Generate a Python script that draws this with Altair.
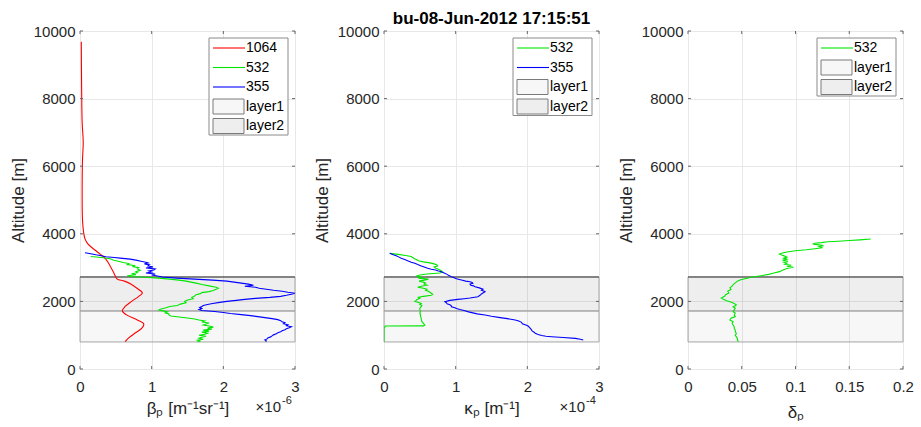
import altair as alt
import pandas as pd

FONT = "Liberation Sans"
W, H = 215, 338
TXT = "#262626"

# ---------------- data ----------------
# Panel 1: particle backscatter coefficient (x 1e-6 m^-1 sr^-1)
alt_b1064 = [9680, 8500, 7300, 6700, 6200, 5200, 4400, 4050, 3850, 3700, 3550, 3400, 3250, 3050,
             2850, 2720, 2660, 2600, 2500, 2380, 2250, 2150, 2000, 1850, 1720, 1600, 1450, 1330,
             1200, 1050, 920, 808]
val_b1064 = [0.018, 0.022, 0.03, 0.045, 0.035, 0.03, 0.035, 0.05, 0.07, 0.11, 0.19, 0.28, 0.36, 0.42,
             0.47, 0.50, 0.52, 0.62, 0.72, 0.80, 0.87, 0.82, 0.72, 0.63, 0.59, 0.65, 0.80, 0.89,
             0.86, 0.76, 0.68, 0.63]

alt_b532 = [3330, 3300, 3260, 3220, 3180, 3150, 3120, 3090, 3060, 3030, 3000, 2960, 2920, 2880, 2850,
            2820, 2790, 2760, 2735, 2715, 2690, 2660, 2630, 2600, 2570, 2540, 2500, 2460, 2420, 2390,
            2360, 2320, 2290, 2260, 2230, 2200, 2160, 2120, 2080, 2040, 2000, 1960, 1920, 1880, 1850,
            1810, 1770, 1745, 1720, 1690, 1660, 1630, 1600, 1570, 1540, 1510, 1480, 1450, 1420, 1390,
            1360, 1330, 1300, 1270, 1240, 1210, 1180, 1150, 1120, 1090, 1060, 1030, 1000, 970, 940,
            910, 880, 850, 820, 808]
val_b532 = [0.15, 0.30, 0.42, 0.47, 0.55, 0.60, 0.68, 0.66, 0.76, 0.74, 0.82, 0.80, 0.84, 0.78, 0.80,
            0.72, 0.78, 0.66, 0.70, 0.90, 1.10, 1.25, 1.38, 1.48, 1.55, 1.62, 1.70, 1.80, 1.90, 1.93,
            1.90, 1.86, 1.80, 1.70, 1.68, 1.62, 1.60, 1.56, 1.58, 1.50, 1.46, 1.48, 1.40, 1.36, 1.25,
            1.20, 1.12, 1.10, 1.16, 1.22, 1.19, 1.24, 1.24, 1.27, 1.38, 1.50, 1.60, 1.66, 1.74, 1.70,
            1.80, 1.76, 1.72, 1.80, 1.86, 1.78, 1.84, 1.72, 1.80, 1.70, 1.78, 1.74, 1.66, 1.76, 1.70,
            1.66, 1.72, 1.64, 1.68, 1.64]

alt_b355 = [3441, 3410, 3380, 3350, 3320, 3300, 3280, 3250, 3220, 3190, 3160, 3140, 3110, 3080, 3050,
            3020, 2990, 2960, 2930, 2900, 2870, 2840, 2810, 2780, 2750, 2720, 2690, 2660, 2630, 2600,
            2570, 2540, 2510, 2480, 2450, 2420, 2390, 2360, 2330, 2300, 2270, 2240, 2210, 2180, 2150,
            2120, 2090, 2060, 2030, 2000, 1970, 1940, 1910, 1880, 1850, 1820, 1790, 1760, 1730, 1700,
            1670, 1640, 1610, 1580, 1550, 1520, 1490, 1460, 1430, 1400, 1370, 1340, 1310, 1280, 1250,
            1220, 1190, 1160, 1130, 1100, 1070, 1040, 1010, 980, 950, 920, 890, 860, 830, 808]
val_b355 = [0.07, 0.15, 0.22, 0.30, 0.36, 0.48, 0.56, 0.70, 0.78, 0.85, 0.92, 0.95, 0.90, 0.97, 0.95,
            1.02, 0.92, 1.05, 1.03, 0.96, 1.00, 0.92, 1.05, 1.00, 1.08, 1.15, 1.35, 1.60, 1.85, 2.05,
            2.15, 2.25, 2.35, 2.42, 2.30, 2.45, 2.50, 2.60, 2.70, 2.82, 2.90, 3.00, 2.95, 2.88, 2.80,
            2.65, 2.45, 2.30, 2.18, 2.05, 1.95, 1.85, 1.78, 1.72, 1.70, 1.67, 1.70, 1.66, 1.70, 1.88,
            2.00, 2.10, 2.25, 2.38, 2.48, 2.58, 2.68, 2.76, 2.80, 2.82, 2.86, 2.84, 2.90, 2.88, 2.95,
            2.92, 2.88, 2.86, 2.82, 2.80, 2.76, 2.74, 2.70, 2.68, 2.66, 2.62, 2.61, 2.58, 2.60, 2.59]

# Panel 2: particle extinction coefficient (x 1e-4 m^-1)
alt_e532 = [3422, 3390, 3360, 3330, 3300, 3270, 3240, 3200, 3170, 3140, 3110, 3080, 3050, 3020, 2990,
            2950, 2910, 2870, 2840, 2810, 2780, 2750, 2720, 2690, 2660, 2630, 2600, 2570, 2540, 2510,
            2480, 2450, 2420, 2390, 2360, 2330, 2300, 2270, 2240, 2210, 2180, 2150, 2120, 2090, 2060,
            2030, 2000, 1970, 1940, 1910, 1880, 1850, 1800, 1750, 1700, 1650, 1600, 1550, 1500, 1450,
            1400, 1350, 1300, 1275, 1272, 1200, 1000, 808]
val_e532 = [0.08, 0.20, 0.30, 0.38, 0.40, 0.42, 0.45, 0.48, 0.55, 0.64, 0.70, 0.74, 0.75, 0.70, 0.72,
            0.76, 0.80, 0.82, 0.78, 0.60, 0.50, 0.45, 0.52, 0.48, 0.62, 0.56, 0.49, 0.55, 0.58, 0.56,
            0.60, 0.52, 0.47, 0.55, 0.60, 0.58, 0.62, 0.64, 0.66, 0.68, 0.66, 0.55, 0.48, 0.50, 0.46,
            0.45, 0.43, 0.48, 0.52, 0.50, 0.53, 0.52, 0.50, 0.50, 0.51, 0.50, 0.51, 0.51, 0.52, 0.52,
            0.53, 0.55, 0.57, 0.55, 0.02, 0.0, 0.0, 0.0]

alt_e355 = [3422, 3390, 3350, 3310, 3274, 3240, 3200, 3160, 3126, 3090, 3050, 3010, 2978, 2950, 2930,
            2900, 2880, 2840, 2800, 2770, 2732, 2700, 2680, 2650, 2633, 2600, 2580, 2560, 2535, 2510,
            2480, 2460, 2435, 2400, 2360, 2330, 2300, 2288, 2250, 2220, 2180, 2140, 2100, 2080, 2061,
            2030, 1991, 1960, 1930, 1900, 1870, 1843, 1815, 1790, 1760, 1725, 1690, 1660, 1630, 1598,
            1560, 1520, 1490, 1450, 1420, 1380, 1340, 1300, 1272, 1230, 1180, 1120, 1080, 1056, 1020,
            990, 970, 956, 930, 907, 880, 858]
val_e355 = [0.08, 0.12, 0.17, 0.21, 0.24, 0.29, 0.33, 0.38, 0.43, 0.47, 0.52, 0.57, 0.61, 0.66, 0.72,
            0.76, 0.80, 0.84, 0.88, 0.90, 0.94, 0.98, 1.00, 1.05, 1.08, 1.14, 1.20, 1.23, 1.24, 1.20,
            1.21, 1.25, 1.27, 1.33, 1.38, 1.36, 1.40, 1.41, 1.38, 1.36, 1.34, 1.31, 1.20, 1.12, 1.03,
            0.92, 0.85, 0.87, 0.88, 0.92, 0.94, 0.94, 0.99, 1.01, 1.06, 1.13, 1.18, 1.24, 1.30, 1.41,
            1.50, 1.62, 1.72, 1.83, 1.88, 1.92, 1.93, 1.98, 2.01, 2.03, 2.05, 2.07, 2.10, 2.11, 2.15,
            2.20, 2.26, 2.34, 2.50, 2.67, 2.74, 2.78]

# Panel 3: particle depolarisation ratio
alt_d532 = [3846, 3820, 3800, 3780, 3767, 3740, 3720, 3700, 3680, 3650, 3620, 3590, 3560, 3530, 3500,
            3460, 3430, 3400, 3373, 3340, 3310, 3280, 3250, 3220, 3190, 3160, 3130, 3100, 3070, 3040,
            3010, 2980, 2950, 2920, 2880, 2840, 2800, 2760, 2720, 2680, 2640, 2600, 2550, 2500, 2450,
            2400, 2350, 2300, 2250, 2200, 2150, 2100, 2060, 2020, 1990, 1950, 1900, 1870, 1840, 1800,
            1750, 1700, 1650, 1600, 1550, 1500, 1450, 1400, 1350, 1300, 1250, 1200, 1150, 1100, 1050,
            1000, 950, 900, 850, 808]
val_d532 = [0.170, 0.160, 0.150, 0.140, 0.130, 0.124, 0.118, 0.116, 0.120, 0.126, 0.122, 0.125, 0.118,
            0.110, 0.100, 0.092, 0.088, 0.085, 0.087, 0.090, 0.092, 0.089, 0.092, 0.088, 0.093, 0.089,
            0.092, 0.090, 0.096, 0.092, 0.098, 0.093, 0.090, 0.088, 0.085, 0.080, 0.075, 0.068, 0.060,
            0.054, 0.049, 0.046, 0.044, 0.042, 0.041, 0.039, 0.040, 0.037, 0.038, 0.035, 0.034, 0.031,
            0.033, 0.036, 0.039, 0.042, 0.045, 0.044, 0.042, 0.044, 0.043, 0.042, 0.044, 0.043, 0.044,
            0.040, 0.039, 0.042, 0.041, 0.042, 0.043, 0.043, 0.044, 0.044, 0.045, 0.044, 0.045, 0.046,
            0.046, 0.047]

# Aerosol layers (altitude bounds, m)
layer_names = ["layer1", "layer2"]
layer_bottom = [800, 1716]
layer_top = [1716, 2722]

# Axis ticks
alt_ticks = [0, 2000, 4000, 6000, 8000, 10000]
x1_ticks = [0, 1, 2, 3]
x3_ticks = [0, 0.05, 0.1, 0.15, 0.2]

series_colors = {"1064": "#ff0000", "532": "#00e600", "355": "#0000ff"}
layer_fill_opacity = [0.03, 0.065]


def series_df(alts, vals):
    return pd.DataFrame({"alt": alts, "val": vals, "i": list(range(len(alts)))})


def panel(series, xdomain, xticks, xtitle, xtitle_pad, mult, legend_series, title=None):
    xs = alt.Scale(domain=xdomain, nice=False, zero=False)
    ys = alt.Scale(domain=[0, 10000], nice=False)
    yaxis = alt.Axis(values=alt_ticks, format="d", title="Altitude [m]", grid=True,
                     gridColor="#e8e8e8", domain=False, ticks=False, tickSize=0,
                     labelFont=FONT, labelFontSize=15, labelColor=TXT, labelPadding=5,
                     titleFont=FONT, titleFontSize=17, titleFontWeight="normal",
                     titleColor=TXT, titlePadding=6)
    xaxis = alt.Axis(values=xticks, format="~g", title=xtitle, grid=True,
                     gridColor="#e8e8e8", domain=False, ticks=False, tickSize=0,
                     labelFont=FONT, labelFontSize=15, labelColor=TXT, labelPadding=10,
                     labelFlush=False,
                     titleFont=FONT, titleFontSize=17, titleFontWeight="normal",
                     titleColor=TXT, titlePadding=xtitle_pad)

    def X(field):
        return alt.X(field, scale=xs, axis=xaxis, title=xtitle)

    def Y(field):
        return alt.Y(field, scale=ys, axis=yaxis, title="Altitude [m]")

    layers_df = pd.DataFrame({"name": layer_names, "y1": layer_bottom, "y2": layer_top})
    rects = alt.Chart(layers_df).mark_rect(fill="#000000", stroke="#a6a6a6", strokeWidth=1).encode(
        x=alt.value(0), x2=alt.value(W),
        y=Y("y1:Q"), y2="y2:Q",
        fillOpacity=alt.FillOpacity("name:N", scale=alt.Scale(domain=layer_names,
                                                              range=layer_fill_opacity),
                                    legend=None),
    )
    top_df = pd.DataFrame({"y2": [layer_top[-1]]})
    top_edge = alt.Chart(top_df).mark_rule(color="#3a3a3a", strokeWidth=1).encode(
        y=Y("y2:Q"), x=alt.value(0), x2=alt.value(W),
    )

    parts = [rects, top_edge]
    for name, alts, vals, interp in series:
        parts.append(
            alt.Chart(series_df(alts, vals)).mark_line(
                color=series_colors[name], strokeWidth=1.1, interpolate=interp, clip=True
            ).encode(
                x=X("val:Q"),
                y=Y("alt:Q"),
                order="i:Q",
            )
        )

    # inward ticks (MATLAB style), positioned by the scales
    xt = pd.DataFrame({"val": xticks})
    yt = pd.DataFrame({"alt": alt_ticks})
    parts.append(alt.Chart(xt).mark_rule(color="#666", strokeWidth=1).encode(
        x=X("val:Q"), y=alt.value(H), y2=alt.value(H - 3)))
    parts.append(alt.Chart(xt).mark_rule(color="#666", strokeWidth=1).encode(
        x=X("val:Q"), y=alt.value(0), y2=alt.value(3)))
    parts.append(alt.Chart(yt).mark_rule(color="#666", strokeWidth=1).encode(
        y=Y("alt:Q"), x=alt.value(0), x2=alt.value(3)))
    parts.append(alt.Chart(yt).mark_rule(color="#666", strokeWidth=1).encode(
        y=Y("alt:Q"), x=alt.value(W - 3), x2=alt.value(W)))

    # legend box
    one = pd.DataFrame({"a": [0]})
    entries = [(s, "line") for s in legend_series] + [(l, "patch") for l in layer_names]
    n = len(entries)
    box_top, row0, step = 7, 17, 19.5
    box_bot = row0 + (n - 1) * step + 9
    bx0, bx1 = 129, 208
    parts.append(alt.Chart(one).mark_rect(fill="white", stroke="#8a8a8a", strokeWidth=1).encode(
        x=alt.value(bx0), x2=alt.value(bx1), y=alt.value(box_top), y2=alt.value(box_bot)))
    for k, (lab, kind) in enumerate(entries):
        yc = row0 + k * step
        if kind == "line":
            parts.append(alt.Chart(one).mark_rule(color=series_colors[lab], strokeWidth=1.1).encode(
                x=alt.value(133), x2=alt.value(165), y=alt.value(yc)))
        else:
            op = layer_fill_opacity[layer_names.index(lab)]
            parts.append(alt.Chart(one).mark_rect(fill="#000000", fillOpacity=op,
                                                  stroke="#7a7a7a", strokeWidth=1).encode(
                x=alt.value(133), x2=alt.value(164), y=alt.value(yc - 7.5), y2=alt.value(yc + 7.5)))
        parts.append(alt.Chart(one).mark_text(align="left", baseline="middle", font=FONT,
                                              fontSize=14, color="#000000").encode(
            x=alt.value(166), y=alt.value(yc), text=alt.value(lab)))

    if mult:
        parts.append(alt.Chart(one).mark_text(align="right", baseline="alphabetic", font=FONT,
                                              fontSize=15, color=TXT).encode(
            x=alt.value(W - 14), y=alt.value(H + 43), text=alt.value("\u00d710")))
        parts.append(alt.Chart(one).mark_text(align="left", baseline="alphabetic", font=FONT,
                                              fontSize=11, color=TXT).encode(
            x=alt.value(W - 13), y=alt.value(H + 35), text=alt.value(mult)))

    ch = alt.layer(*parts)
    props = dict(width=W, height=H)
    if title:
        props["title"] = alt.Title(title, font=FONT, fontSize=17, fontWeight="bold",
                                   color="#000000", offset=-4, anchor="middle")
    return ch.properties(**props)


p1 = panel([("1064", alt_b1064, val_b1064, "catmull-rom"),
            ("532", alt_b532, val_b532, "linear"),
            ("355", alt_b355, val_b355, "linear")],
           [0, 3], x1_ticks, "\u03b2\u209a [m\u207b\u00b9sr\u207b\u00b9]", 6, "-6",
           ["1064", "532", "355"])
p2 = panel([("532", alt_e532, val_e532, "linear"),
            ("355", alt_e355, val_e355, "linear")],
           [0, 3], x1_ticks, "\u03ba\u209a [m\u207b\u00b9]", 6, "-4",
           ["532", "355"], title="bu-08-Jun-2012 17:15:51")
p3 = panel([("532", alt_d532, val_d532, "linear")],
           [0, 0.2], x3_ticks, "\u03b4\u209a", 10, None, ["532"])

chart = alt.hconcat(p1, p2, p3, spacing=89, bounds="flush").properties(
    padding={"left": 8, "top": 9, "right": 5, "bottom": 0},
    background="white",
).configure_view(stroke="#707070", strokeWidth=1)

chart.save("out.html", embed_options={"renderer": "svg", "actions": False})
